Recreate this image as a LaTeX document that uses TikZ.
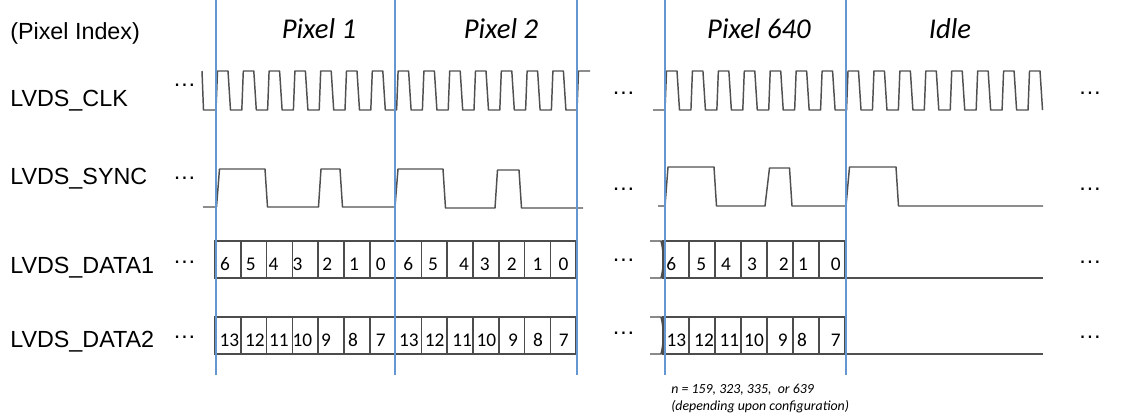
\documentclass[tikz,border=0pt]{standalone}
\usepackage{fontspec}
\setmainfont{Liberation Sans}
\newfontfamily\calibrifont{Carlito}
\definecolor{pxblue}{RGB}{100,150,210}
\definecolor{wave}{RGB}{80,80,80}

% one row of serialised bits: prefix, x0, box width, top, bottom, baseline, {label/offset,...}
\newcommand\drawbits[7]{%
  \foreach \lab/\off [count=\k from 0] in {#7} {
    \draw[bitbox] ({#2+\k*#3},#4) rectangle ({#2+(\k+1)*#3},#5);
    \node[dig] (#1-\k) at ({#2+\k*#3+\off},#6) {\lab};
  }}

\begin{document}
\begin{tikzpicture}[x=0.75pt,y=-0.75pt,
  sig/.style={draw=wave, line width=1.1pt, line join=round},
  marker/.style={draw=pxblue, line width=0.9pt},
  bitbox/.style={draw=black!70, line width=1.1pt},
  lbl/.style={anchor=base west, inner sep=0, font=\fontsize{17.5}{20}\selectfont},
  dots/.style={anchor=base, inner sep=0, font=\fontsize{17.5}{20}\selectfont},
  hdr/.style={anchor=base, inner sep=0, font=\calibrifont\itshape\fontsize{21.5}{25}\selectfont},
  dig/.style={anchor=base, inner sep=0, font=\calibrifont\fontsize{14.5}{16}\selectfont},
  note/.style={anchor=base west, inner sep=0, font=\calibrifont\itshape\fontsize{10.4}{12}\selectfont}]
\useasboundingbox (0,0) rectangle (1128,415);

% signal names
\node[lbl] (idx)  at (10,39)  {(Pixel Index)};
\node[lbl] (clk)  at (10,106) {LVDS\_CLK};
\node[lbl] (sync) at (10,184) {LVDS\_SYNC};
\node[lbl] (d1)   at (10,273) {LVDS\_DATA1};
\node[lbl] (d2)   at (10,347) {LVDS\_DATA2};

% pixel headers
\node[hdr] (p1)   at (319,38) {Pixel 1};
\node[hdr] (p2)   at (501,38) {Pixel 2};
\node[hdr] (p640) at (759,38) {Pixel 640};
\node[hdr] (idle) at (950,38) {Idle};

% ellipses
\node[dots] (clkL)  at (184.5,86.5)  {…};
\node[dots] (syncL) at (184.5,179.5) {…};
\node[dots] (d1L)   at (184.5,263.5) {…};
\node[dots] (d2L)   at (184.5,338.5) {…};
\node[dots] (clkM)  at (623.5,94.5)  {…};
\node[dots] (syncM) at (623.5,190.5) {…};
\node[dots] (d1M)   at (623.5,261.5) {…};
\node[dots] (d2M)   at (623.5,334.5) {…};
\node[dots] (clkR)  at (1090,94.5)   {…};
\node[dots] (syncR) at (1090,190.5)  {…};
\node[dots] (d1R)   at (1090,263)    {…};
\node[dots] (d2R)   at (1090,338)    {…};

% clock, pixels 1-2
\draw[sig] (202,71) -- (203.5,110)
  foreach \i in {0,...,13} { -- ({216+\i*25.8},110) -- ({217.5+\i*25.8},71)
                             -- ({228+\i*25.8},71) -- ({230.5+\i*25.8},110) }
  -- (577,110) -- (578.5,71) -- (590,71);
% clock, pixel 640 and idle
\draw[sig] (653,110)
  foreach \i in {0,...,14} { -- ({665+\i*25.93},110) -- ({666.5+\i*25.93},71)
                             -- ({677+\i*25.93},71) -- ({679.5+\i*25.93},110) };

% sync, pixels 1-2
\draw[sig] (203,207) -- (216.5,207) -- (219.5,169) -- (265,169) -- (267.5,207)
  -- (318.5,207) -- (321,169) -- (340,169) -- (342.5,207)
  -- (395,207) -- (398,169) -- (443,169) -- (445.5,208)
  -- (495,208) -- (497.5,170) -- (519,170) -- (521.5,208) -- (583,208);
% sync, pixel 640 and idle
\draw[sig] (658,206) -- (665,206) -- (668,167) -- (714,167) -- (716.5,206)
  -- (765,206) -- (769.5,168) -- (789.5,168) -- (792,206)
  -- (846,206) -- (849.5,167) -- (896,167) -- (898.5,206) -- (1043,206);

% data lanes, pixels 1-2
\drawbits{a}{215}{25.8}{241}{278}{270}{6/10,5/10,4/7,3/5,2/9,1/10,0/11,6/12.7,5/11.7,4/16.7,3/11.7,2/13,1/13,0/13}
\drawbits{b}{215}{25.8}{317}{354}{346.5}{13/14.3,12/14,11/12.3,10/10,9/7.7,8/9,7/11,13/13.3,12/13.3,11/15,10/13.3,9/14.3,8/13.3,7/13.3}

% data lanes, pixel 640
\draw[bitbox] (650,241) -- (661,241) .. controls (664,252) and (664,267) .. (661,278) -- (650,278);
\draw[bitbox] (650,317) -- (661,317) .. controls (664,328) and (664,343) .. (661,354) -- (650,354);
\drawbits{c}{663}{26}{241}{278}{270}{6/8.3,5/12.3,4/11,3/11,2/16.7,1/10,0/16.7}
\drawbits{e}{663}{26}{317}{354}{346.5}{13/13.3,12/15,11/14.3,10/13,9/15.7,8/9,7/16.7}
\draw[sig] (845,278) -- (1043,278);
\draw[sig] (845,354) -- (1043,354);

% pixel boundaries
\foreach \x in {216,395,577,665,846} \draw[marker] (\x,0) -- (\x,375);

% footnote
\node[note] (n1) at (671,393) {n = 159, 323, 335, \ or 639};
\node[note] (n2) at (671,410) {(depending upon configuration)};
\end{tikzpicture}
\end{document}
